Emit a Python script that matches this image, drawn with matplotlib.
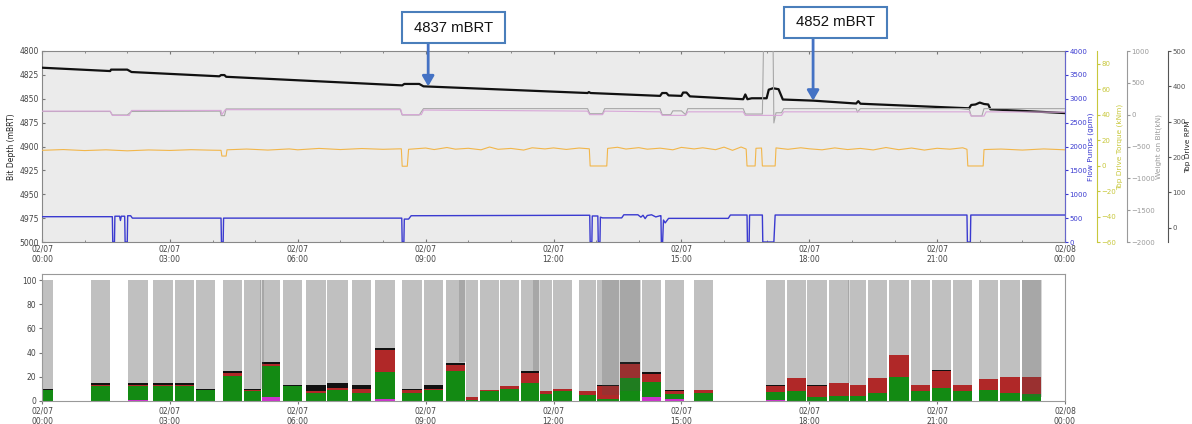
import matplotlib
matplotlib.use("Agg")
from matplotlib import pyplot as plt
from matplotlib.patches import Rectangle
import numpy as np

# x positions are hours since 02/07 00:00
tick_hours = [0, 3, 6, 9, 12, 15, 18, 21, 24]
tick_labels = ["02/07\n00:00", "02/07\n03:00", "02/07\n06:00", "02/07\n09:00",
               "02/07\n12:00", "02/07\n15:00", "02/07\n18:00", "02/07\n21:00",
               "02/08\n00:00"]

# bit depth (mBRT)
depth_t = [0, 1.6, 1.62, 2.0, 2.1, 4.16, 4.2, 4.28, 4.32, 8.45, 8.5, 8.85, 8.95,
           12.8, 12.83, 12.87, 14.5, 14.55, 14.65, 14.7, 15.0, 15.04, 15.12, 15.2,
           16.45, 16.5, 16.55, 16.65, 17.0, 17.05, 17.15, 17.28, 17.38, 18.1,
           19.1, 19.15, 19.2, 21.75, 21.8, 21.9, 22.0, 22.1, 22.2, 22.25, 24]
depth_v = [4817.5, 4821, 4819.5, 4819.5, 4822, 4826.5, 4825.2, 4825.2, 4827,
           4836, 4834.5, 4834.5, 4837, 4844, 4843, 4844, 4847, 4844, 4844, 4846.5,
           4847, 4843.5, 4843.5, 4847.5, 4850.5, 4845.5, 4850.5, 4849.5, 4849.5,
           4840.5, 4839, 4840, 4850.8, 4852, 4855, 4852.5, 4855.2, 4860, 4856.5,
           4856, 4854, 4855.5, 4856, 4861, 4865]

# flow pumps (gpm)
flow_t = [0, 1.65, 1.66, 1.70, 1.71, 1.82, 1.84, 1.86, 1.94, 1.95, 2.0, 2.01,
          2.08, 2.12, 4.2, 4.21, 4.25, 4.26, 8.44, 8.45, 8.49, 8.5, 8.6, 8.66,
          12.85, 12.86, 12.9, 12.91, 13.04, 13.05, 13.09, 13.1, 13.15, 13.6,
          13.65, 13.98, 14.05, 14.1, 14.15, 14.2, 14.3, 14.4, 14.5, 14.52, 14.53,
          14.56, 14.58, 14.62, 14.7, 16.1, 16.15, 16.54, 16.55, 16.59, 16.6,
          16.9, 16.91, 17.17, 17.2, 21.7, 21.71, 21.78, 21.79, 24]
flow_v = [530, 530, 0, 0, 540, 540, 450, 540, 540, 0, 0, 550, 550, 500, 500, 0,
          0, 500, 500, 0, 0, 480, 480, 550, 560, 0, 0, 545, 545, 0, 0, 520, 505,
          505, 570, 570, 520, 560, 490, 555, 570, 525, 550, 550, 0, 0, 460, 400,
          495, 495, 565, 565, 0, 0, 565, 565, 0, 0, 565, 565, 0, 0, 565, 565]

# top drive torque (kNm)
torque_t = [0, 0.5, 1.0, 1.5, 2.0, 2.5, 3.0, 3.5, 4.0, 4.2, 4.22, 4.32, 4.34,
            4.8, 5.3, 5.8, 6.0, 6.5, 7.0, 7.5, 8.0, 8.43, 8.45, 8.57, 8.6, 9.0,
            9.2, 9.5, 9.7, 10.0, 10.3, 10.5, 10.7, 11.0, 11.3, 11.5, 11.8, 12.0,
            12.3, 12.6, 12.84, 12.86, 13.25, 13.27, 13.5, 13.7, 14.0, 14.2, 14.5,
            14.8, 15.0, 15.3, 15.5, 15.8, 16.0, 16.2, 16.4, 16.52, 16.54, 16.73,
            16.75, 16.88, 16.9, 17.2, 17.22, 17.5, 17.8, 18.0, 18.3, 18.6, 18.9,
            19.2, 19.5, 19.8, 20.1, 20.4, 20.7, 21.0, 21.3, 21.6, 21.7, 21.72,
            22.08, 22.1, 22.5, 23.0, 23.5, 24]
torque_v = [12.0, 12.6, 11.8, 12.4, 11.6, 12.3, 11.9, 12.5, 12.1, 12.0, 7.5, 7.5,
            12.4, 13.0, 12.2, 13.1, 12.4, 13.5, 12.6, 13.4, 12.8, 13.2, -0.5,
            -0.5, 12.8, 13.8, 12.6, 14.2, 12.9, 13.6, 12.4, 14.6, 12.8, 13.5,
            12.2, 14.0, 13.1, 13.9, 12.7, 13.8, 13.2, -0.3, -0.3, 13.5, 14.4,
            13.0, 14.1, 12.9, 13.7, 12.4, 14.3, 13.1, 14.0, 12.5, 14.5, 12.0,
            14.6, 13.0, -0.3, -0.3, 13.6, 13.8, -0.3, -0.3, 13.9, 12.8, 14.0,
            13.2, 12.4, 13.9, 12.6, 13.5, 12.3, 14.2, 12.5, 13.8, 12.2, 13.6,
            12.9, 14.0, 12.8, -0.3, -0.3, 12.6, 13.0, 12.2, 13.1, 12.4]

# weight on bit (kN)
wob_t = [0, 1.6, 1.65, 2.0, 2.1, 4.18, 4.2, 4.28, 4.32, 8.4, 8.45, 8.85, 8.95,
         12.8, 12.85, 13.15, 13.2, 14.5, 14.55, 14.75, 14.8, 15.0, 15.1, 15.15,
         16.45, 16.5, 16.9, 16.93, 17.15, 17.17, 17.22, 17.35, 17.4, 19.1, 19.13,
         19.2, 21.75, 21.8, 22.05, 22.1, 24]
wob_v = [50, 50, -5, -5, 50, 55, -15, -15, 90, 90, -5, -5, 95, 95, 15, 15, 95,
         95, 0, 0, 60, 60, 0, 95, 95, 10, 10, 1200, 1200, -130, 30, 30, 95, 95,
         40, 95, 95, -20, -20, 95, 95]

# top drive rpm
rpm_t = [0, 1.6, 1.65, 2.05, 2.1, 4.2, 4.22, 4.3, 8.42, 8.45, 8.9, 8.95, 12.8,
         12.85, 13.15, 13.2, 14.5, 14.55, 15.1, 15.15, 16.45, 16.5, 17.35, 17.4,
         21.75, 21.8, 22.1, 22.15, 24]
rpm_v = [330, 330, 318, 318, 332, 332, 320, 334, 334, 320, 320, 333, 330, 320,
         320, 330, 328, 318, 318, 328, 328, 318, 318, 328, 328, 316, 316, 328, 327]

# annotated depths
ann_time = [9.06, 18.09]
ann_depth = [4837, 4852]

# lower chart: one bar per stand, percentages
bar_start = [0.00, 1.15, 2.02, 2.60, 3.12, 3.61, 4.25, 4.74, 5.16, 5.65, 6.19,
             6.69, 7.27, 7.81, 8.45, 8.96, 9.48, 9.95, 10.28, 10.75, 11.24,
             11.68, 11.99, 12.60, 13.02, 13.56, 14.08, 14.62, 15.30, 16.99,
             17.48, 17.95, 18.46, 18.96, 19.38, 19.87, 20.39, 20.88, 21.37,
             21.98, 22.48, 22.99]
bar_end = [0.28, 1.62, 2.51, 3.10, 3.59, 4.08, 4.72, 5.16, 5.61, 6.12, 6.69,
           7.20, 7.74, 8.30, 8.94, 9.43, 9.95, 10.25, 10.75, 11.21, 11.68, 11.99,
           12.46, 13.02, 13.56, 14.05, 14.55, 15.09, 15.77, 17.45, 17.95, 18.44,
           18.96, 19.35, 19.85, 20.36, 20.86, 21.35, 21.84, 22.45, 22.97, 23.46]
pct_other = [0, 0, 0.8, 0, 0, 0, 0, 0, 3, 0, 0, 0, 0, 2, 0, 0, 0, 0, 0, 0, 0, 0,
             0, 0, 0, 0, 3, 1.5, 0, 0.5, 0, 0, 0, 0, 0, 0, 0, 0, 0, 0, 0, 0]
pct_green = [9, 12.5, 11.7, 12, 12, 9, 21, 8, 26, 12, 7, 9, 7, 22, 7, 9, 25, 1,
             8, 10, 15, 6, 8, 5, 2, 19, 13, 4, 7, 7, 8, 3.5, 4, 4, 7, 20, 8, 11,
             8, 9, 7, 6]
pct_red = [0.5, 1, 1, 1.5, 1.5, 0.5, 2, 1, 2, 0.5, 1, 2, 3, 18, 2, 1, 5, 2, 1.5,
           2, 8, 2, 2, 3, 10, 12, 6, 3, 2, 5, 11, 9, 11, 9, 12, 18, 5, 14, 5, 9,
           13, 14]
pct_black = [0.7, 1.5, 1.5, 1.5, 1.5, 0.5, 2, 1, 1, 1, 5, 4, 3, 2, 1, 3, 1.5, 0,
             0, 0, 1.5, 0, 0, 0, 1, 1, 2, 1, 0, 1, 0, 1, 0, 0, 0, 0, 0, 0.5, 0,
             0, 0, 0]

# darker grey periods in the lower chart
shade_start = [5.12, 9.78, 11.52, 13.14, 13.56, 18.90, 22.99]
shade_end = [5.20, 9.95, 11.68, 13.56, 14.05, 18.96, 23.46]
shade_from = [10, 32, 25, 5, 8, 15, 3]

BLUE = "#3a3ad0"
YELLOW = "#c8c83c"
GREY = "#9a9a9a"
TXT = "#444444"

fig = plt.figure(figsize=(11.92, 4.24), dpi=100)
W, H = 1192.0, 424.0
PX = 72.0 / 100  # points per pixel
AX_L, AX_W = 42.0, 1023.0

# ---------------- top chart ----------------
ax = fig.add_axes([AX_L / W, 1 - 242 / H, AX_W / W, 191 / H])
ax.set_facecolor("#ebebeb")
ax.set_xlim(0, 24)
ax.set_ylim(5000, 4800)
ax.set_yticks(np.arange(4800, 5001, 25))
ax.set_xticks(tick_hours)
ax.set_xticklabels(tick_labels)
ax.set_xticks(range(25), minor=True)
ax.tick_params(which="both", direction="in", top=True, labelsize=5.5,
               labelcolor=TXT, color="#777777", length=2.5, pad=2)
ax.tick_params(which="minor", length=1.5)
ax.set_ylabel("Bit Depth (mBRT)", fontsize=5.5, color="#222222", labelpad=3)
for s in ax.spines.values():
    s.set_color("#888888")
    s.set_linewidth(0.8)


def side_axis(offset_px, lo, hi, ticks, color, label, label_px):
    a = ax.twinx()
    a.set_ylim(lo, hi)
    a.set_yticks(ticks)
    for name in ("top", "bottom", "left"):
        a.spines[name].set_visible(False)
    a.spines["right"].set_position(("outward", offset_px * PX))
    a.spines["right"].set_color(color)
    a.tick_params(axis="y", labelsize=5, colors=color, length=2, pad=1.2)
    a.set_ylabel(label, fontsize=5.3, color=color)
    a.yaxis.set_label_coords((label_px - AX_L) / AX_W, 0.5)
    return a


ax_flow = side_axis(0, 0, 4000, range(0, 4001, 500), BLUE,
                    "Flow Pumps (gpm)", 1088)
ax_flow.spines["right"].set_color("#6666cc")
ax_tq = side_axis(32, -60, 90, range(-60, 81, 20), YELLOW,
                  "Top Drive Torque (kNm)", 1117)
ax_wob = side_axis(62, -2000, 1000, range(-2000, 1001, 500), GREY,
                   "Weight on Bit(kN)", 1156)
ax_rpm = side_axis(103, -40, 500, range(0, 501, 100), "#555555",
                   "Top Drive RPM", 1185)
ax_rpm.yaxis.label.set_color("#222222")

ax_rpm.plot(rpm_t, rpm_v, color="#d8a6d8", linewidth=0.8)
ax_wob.plot(wob_t, wob_v, color="#a8a8a8", linewidth=0.8)
ax_tq.plot(torque_t, torque_v, color="#f2b64a", linewidth=0.8)
ax_flow.plot(flow_t, flow_v, color=BLUE, linewidth=1.0)
ax.plot(depth_t, depth_v, color="#111111", linewidth=1.6, zorder=5)

# annotation boxes with arrows pointing to the depth line
box_px = [(402, 12, 103, 31), (784, 7, 103, 31)]
for t, d, (bx, by, bw, bh) in zip(ann_time, ann_depth, box_px):
    fig.add_artist(Rectangle((bx / W, 1 - (by + bh) / H), bw / W, bh / H,
                             transform=fig.transFigure, facecolor="white",
                             edgecolor="#4a7ebb", linewidth=1.5))
    fig.text((bx + bw / 2) / W, 1 - (by + bh / 2) / H, f"{d} mBRT",
             ha="center", va="center", fontsize=10.7, family="Liberation Sans",
             color="#111111")
    ax.annotate("", xy=(t, d), xycoords="data",
                xytext=(t, H - (by + bh)), textcoords=("data", "figure pixels"),
                arrowprops=dict(arrowstyle="-|>,head_width=0.35,head_length=0.6",
                                color="#4472c4", linewidth=2,
                                shrinkA=0, shrinkB=0),
                annotation_clip=False)

# ---------------- bottom chart ----------------
axb = fig.add_axes([AX_L / W, 1 - 401 / H, AX_W / W, 127 / H])
axb.set_xlim(0, 24)
axb.set_ylim(0, 105)

gap = 0.03
starts = np.array(bar_start)
widths = np.array(bar_end) - starts - gap
segments = [
    (np.array(pct_other), "#cc33cc"),
    (np.array(pct_green), "#138a13"),
    (np.array(pct_red), "#b02828"),
    (np.array(pct_black), "#111111"),
]
bottom = np.zeros(len(starts))
for vals, col in segments:
    axb.bar(starts, vals, width=widths, bottom=bottom, align="edge",
            color=col, linewidth=0)
    bottom = bottom + vals
axb.bar(starts, 100 - bottom, width=widths, bottom=bottom, align="edge",
        color="#c0c0c0", linewidth=0)

sh_start = np.array(shade_start)
sh_from = np.array(shade_from)
axb.bar(sh_start, 100 - sh_from, width=np.array(shade_end) - sh_start,
        bottom=sh_from, align="edge", color="#505050", alpha=0.22, linewidth=0)

axb.set_yticks(range(0, 101, 20))
axb.set_xticks(tick_hours)
axb.set_xticklabels(tick_labels)
axb.tick_params(labelsize=5.5, labelcolor=TXT, color="#777777", length=2, pad=2)
for s in axb.spines.values():
    s.set_color("#999999")
    s.set_linewidth(0.8)

fig.savefig("out.png", dpi=100)
